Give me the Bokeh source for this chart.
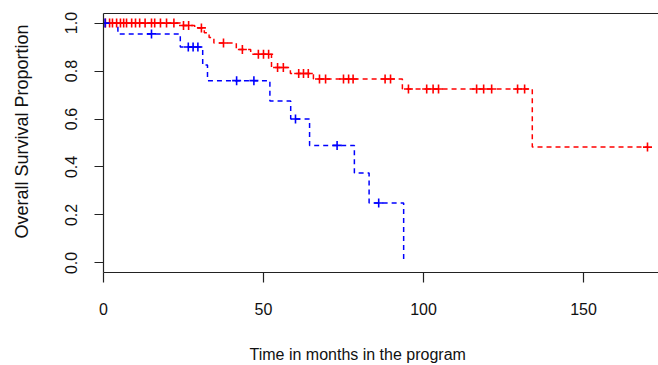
import numpy as np
from bokeh.plotting import figure
from bokeh.models import Range1d, LinearAxis, FixedTicker, Title
from bokeh.embed import file_html
from bokeh.resources import INLINE

# ---- data ----
red_times = [0, 24, 28.5, 31.5, 33, 34.5, 41.5, 46, 52.5, 58.4, 65.6, 93.4, 134, 170]
red_surv = [1.0, 0.99, 0.98, 0.96, 0.94, 0.917, 0.89, 0.87, 0.815, 0.79, 0.767, 0.725, 0.483, 0.483]
red_censor = [0.6, 1.9, 2.8, 4.1, 5.3, 6.3, 7.2, 8.8, 10, 11.3, 13, 15, 16, 17.8, 19.7, 22,
              25, 26.6, 30.6, 37.5, 43.4, 48.4, 50, 51.6, 54.4, 56.2, 61, 62.5, 64,
              67.5, 69.4, 75, 76.6, 78, 88, 89.7, 95.3, 101, 103, 104.7, 116.6, 118.8,
              121.3, 129.4, 131.6, 170]

blue_times = [0, 4.5, 24, 31, 32.5, 52, 58.5, 64.4, 78.4, 83, 93.8]
blue_surv = [1.0, 0.955, 0.90, 0.825, 0.76, 0.675, 0.60, 0.49, 0.375, 0.25, 0.0]
blue_censor = [0.5, 15, 26.5, 28, 29.5, 41.6, 47, 60, 73, 86]

x_ticks = [0, 50, 100, 150]
y_ticks = [0.0, 0.2, 0.4, 0.6, 0.8, 1.0]
y_tick_labels = ["0.0", "0.2", "0.4", "0.6", "0.8", "1.0"]

x_label = "Time in months in the program"
y_label = "Overall Survival Proportion"


def surv_at(times, surv, t):
    idx = np.searchsorted(np.asarray(times), t, side="right") - 1
    return list(np.asarray(surv)[idx])


FONT = "Liberation Sans"

p = figure(width=658, height=365, output_backend="svg", toolbar_location=None,
           x_range=Range1d(0, 173.44), y_range=Range1d(-0.04, 1.04),
           min_border_left=103, min_border_right=0, min_border_top=13,
           min_border_bottom=93)
p.outline_line_color = None
p.xgrid.visible = False
p.ygrid.visible = False
p.background_fill_color = "white"
p.border_fill_color = "white"

# curves
p.step(red_times, red_surv, mode="after", line_color="#FF0000", line_width=1.5,
       line_dash="5 4")
p.step(blue_times, blue_surv, mode="after", line_color="#0000FF", line_width=1.5,
       line_dash="5 4")

# censor marks
p.scatter(red_censor, surv_at(red_times, red_surv, red_censor), marker="cross",
          size=9, line_width=1.6, line_color="#FF0000")
p.scatter(blue_censor, surv_at(blue_times, blue_surv, blue_censor), marker="cross",
          size=9, line_width=1.6, line_color="#0000FF")

# axes
AX = "#222222"
xa = p.xaxis[0]
xa.ticker = FixedTicker(ticks=x_ticks)
ya = p.yaxis[0]
ya.ticker = FixedTicker(ticks=y_ticks)
ya.major_label_overrides = {t: s for t, s in zip(y_ticks, y_tick_labels)}
ya.major_label_orientation = "vertical"

for ax in (xa, ya):
    ax.axis_line_color = AX
    ax.axis_line_width = 1.2
    ax.major_tick_line_color = AX
    ax.major_tick_line_width = 1.2
    ax.major_tick_in = 0
    ax.minor_tick_line_color = None
    ax.major_label_text_font = FONT
    ax.major_label_text_font_size = "16px"
    ax.major_label_text_color = "#111111"

xa.major_tick_out = 10
xa.major_label_standoff = 20
ya.major_tick_out = 9
ya.major_label_standoff = 17

# top border line
p.add_layout(LinearAxis(ticker=FixedTicker(ticks=[]), major_label_text_font_size="0px",
                        major_tick_line_color=None, minor_tick_line_color=None,
                        axis_line_color=AX, axis_line_width=1.2,
                        major_label_standoff=0), "above")


# invisible spacer axes (white tick in an empty corner) between axes and titles
def spacer(extent, at):
    return LinearAxis(ticker=FixedTicker(ticks=[at]), major_label_overrides={at: ""},
                      major_label_text_font_size="0px", major_label_standoff=0,
                      major_tick_line_color="white", major_tick_line_width=1,
                      major_tick_out=extent, major_tick_in=0,
                      minor_tick_line_color=None, axis_line_color=None)


p.add_layout(spacer(29, 1.03), "left")
p.add_layout(spacer(24, 172.5), "below")

# axis titles
p.add_layout(Title(text=y_label, align="left", offset=34, standoff=4,
                   text_font=FONT, text_font_size="18px", text_font_style="normal",
                   text_color="#111111"), "left")
p.add_layout(Title(text=x_label, align="left", offset=146, standoff=4,
                   text_font=FONT, text_font_size="16px", text_font_style="normal",
                   text_color="#111111"), "below")

open("out.html", "w").write(file_html(p, INLINE))
